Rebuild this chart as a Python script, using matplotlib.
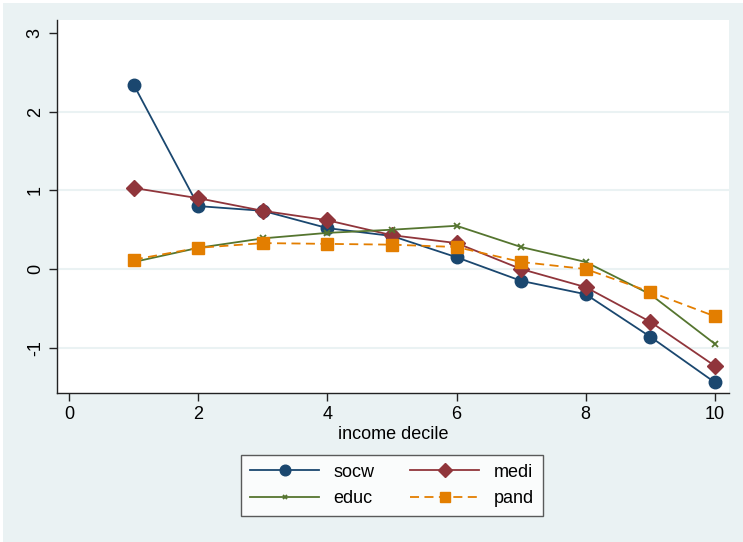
import matplotlib.pyplot as plt
from matplotlib.patches import Rectangle

# income deciles and the four series
deciles = [1, 2, 3, 4, 5, 6, 7, 8, 9, 10]
socw = [2.34, 0.80, 0.74, 0.52, 0.42, 0.15, -0.15, -0.32, -0.86, -1.44]
medi = [1.03, 0.90, 0.74, 0.62, 0.43, 0.33, 0.00, -0.23, -0.67, -1.23]
educ = [0.09, 0.27, 0.39, 0.46, 0.50, 0.55, 0.28, 0.09, -0.32, -0.95]
pand = [0.12, 0.27, 0.33, 0.32, 0.31, 0.28, 0.09, 0.00, -0.29, -0.60]

xticks = [0, 2, 4, 6, 8, 10]
yticks = [-1, 0, 1, 2, 3]

bg = '#EAF2F3'
plt.rcParams['font.family'] = ['Liberation Sans', 'DejaVu Sans']
plt.rcParams['axes.unicode_minus'] = False

fig = plt.figure(figsize=(7.43, 5.42), dpi=100, facecolor='white')
# stata-style graph region, inset a few pixels
fig.patches.append(Rectangle((3 / 743, 0), 1 - 3 / 743, 1 - 3 / 542,
                             transform=fig.transFigure, facecolor=bg,
                             edgecolor='none', zorder=-10))

ax = fig.add_axes([57 / 743, (542 - 393) / 542, (729 - 57) / 743, (393 - 20) / 542])
ax.set_facecolor('white')

l1, = ax.plot(deciles, socw, color='#1A476F', marker='o', markersize=9, lw=1.3, label='socw')
l2, = ax.plot(deciles, medi, color='#90353B', marker='D', markersize=8, lw=1.3, label='medi')
l3, = ax.plot(deciles, educ, color='#55752F', marker='x', markersize=4, mew=1.3, lw=1.3, label='educ')
l4, = ax.plot(deciles, pand, color='#E37E00', marker='s', markersize=8, lw=1.3, ls=(0, (5, 3)), label='pand')

ax.set_xlim(-0.19, 10.22)
ax.set_ylim(-1.575, 3.165)
ax.set_xticks(xticks)
ax.set_yticks(yticks)
for y in [-1, 0, 1, 2]:
    ax.axhline(y, color=bg, lw=1.5, zorder=0)

for s in ['top', 'right']:
    ax.spines[s].set_visible(False)
for s in ['left', 'bottom']:
    ax.spines[s].set_color('#222222')
    ax.spines[s].set_linewidth(1.0)
ax.tick_params(direction='out', length=6, width=1, color='#222222', labelsize=13)
ax.tick_params(axis='y', labelrotation=90)
for lab in ax.get_yticklabels():
    lab.set_va('center')

ax.set_xlabel('income decile', fontsize=13, labelpad=2)

# row-wise order: socw medi / educ pand
handles = [l1, l3, l2, l4]
leg = fig.legend(handles, [h.get_label() for h in handles], ncol=2, loc='center',
                 bbox_to_anchor=(392 / 743, 1 - 485.5 / 542),
                 frameon=True, fancybox=False, fontsize=13, handlelength=3.8,
                 columnspacing=2.0, borderpad=0.5, labelspacing=0.55,
                 markerscale=0.85)
leg.get_frame().set_edgecolor('#333333')
leg.get_frame().set_linewidth(1.0)

fig.savefig('out.png', dpi=100, facecolor=fig.get_facecolor())
